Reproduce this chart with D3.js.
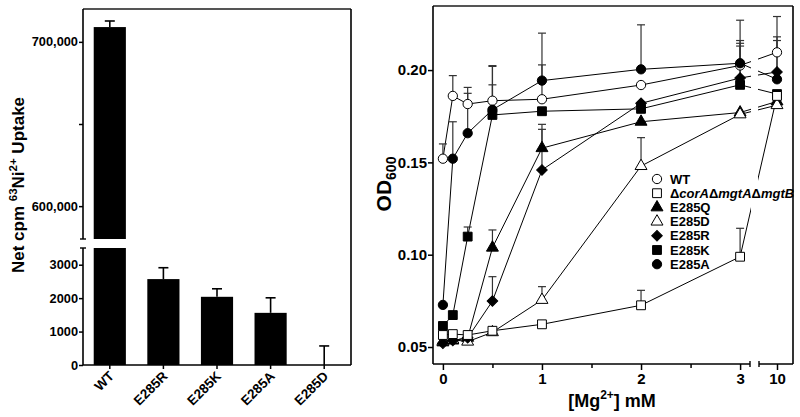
<!DOCTYPE html>
<html><head><meta charset="utf-8">
<script src="https://cdn.jsdelivr.net/npm/d3@7"></script>
<style>
body{margin:0;background:#fff}
svg{display:block}
text{font-family:"Liberation Sans",Arial,Helvetica,sans-serif;font-weight:bold;fill:#000}
</style>
</head><body>
<svg id="c" width="800" height="417"></svg>
<script>
// ---------- Left panel data ----------
const strains = ["WT","E285R","E285K","E285A","E285D"];
const uptake = [709000, 2570, 2040, 1560, 0];
const uptakeErr = [3700, 340, 240, 450, 570];
const lowTicks = [0, 1000, 2000, 3000];
const highTicks = [600000, 650000, 700000];
const highLabelled = [600000, 700000];

// ---------- Right panel data ----------
const mg = [0, 0.1, 0.25, 0.5, 1, 2, 3, 10];
const xTicksMain = [0, 1, 2, 3];
const xMinorTicks = [0.5, 1.5, 2.5];
const xTicksBreak = [10];
const yTicksOD = [0.05, 0.10, 0.15, 0.20];
const seriesNames = ["WT","ΔcorAΔmgtAΔmgtB","E285Q","E285D","E285R","E285K","E285A"];
const odWT    = [0.152, 0.186, 0.1816, 0.1834, 0.1842, 0.1919, 0.2025, 0.2096];
const odCorA  = [0.0565, 0.057, 0.0565, 0.0588, 0.0623, 0.0726, 0.0989, 0.186];
const odE285Q = [0.0525, 0.0535, 0.055, 0.1038, 0.1577, 0.172, 0.177, 0.183];
const odE285D = [0.053, 0.054, 0.0529, 0.058, 0.0755, 0.148, 0.176, 0.181];
const odE285R = [0.052, 0.0535, 0.055, 0.0749, 0.1459, 0.182, 0.1957, 0.199];
const odE285K = [0.0614, 0.0673, 0.1098, 0.1757, 0.1777, 0.179, 0.192, 0.187];
const odE285A = [0.0728, 0.152, 0.1658, 0.1785, 0.1943, 0.2004, 0.2037, 0.195];
const errWT    = [0.008, 0.011, 0.009, 0.0086, 0.0186, 0, 0.0135, 0.0194];
const errCorA  = [0, 0, 0, 0, 0, 0.0081, 0.0154, 0];
const errE285Q = [0, 0, 0, 0.0096, 0.0129, 0, 0, 0];
const errE285D = [0, 0, 0, 0, 0.0072, 0.0154, 0, 0];
const errE285R = [0, 0, 0, 0.0132, 0.022, 0, 0.0188, 0.019];
const errE285K = [0, 0, 0.0052, 0.0267, 0, 0, 0.021, 0];
const errE285A = [0, 0.02, 0.0216, 0.0235, 0.0257, 0.0241, 0.0233, 0.021];

const svg = d3.select("#c");

// ================= LEFT PANEL =================
const L = {x0: 83, x1: 351, top: 9, bottom: 365, brkLo: 248, brkHi: 239};
const xL = d3.scaleBand().domain(strains).range([L.x0, L.x1]).paddingInner(0.4).paddingOuter(0.2);
const yLo = d3.scaleLinear().domain([0, 3500]).range([L.bottom, L.brkLo]);
const yHi = d3.scaleLinear().domain([580000, 720000]).range([L.brkHi, L.top]);
const loMax = yLo.domain()[1], hiMin = yHi.domain()[0];

const gL = svg.append("g");
strains.forEach((s, i) => {
  const v = uptake[i];
  const x = xL(s), w = xL.bandwidth();
  const lowTop = Math.min(v, loMax);
  if (lowTop > 0) gL.append("rect").attr("x", x).attr("y", yLo(lowTop)).attr("width", w)
     .attr("height", yLo(0) - yLo(lowTop)).attr("fill", "#000");
  if (v > hiMin) gL.append("rect").attr("x", x).attr("y", yHi(v)).attr("width", w)
     .attr("height", yHi(hiMin) - yHi(v)).attr("fill", "#000");
  const cx = x + w / 2;
  const ys = v > loMax ? yHi : yLo;
  const e = uptakeErr[i];
  gL.append("line").attr("x1", cx).attr("x2", cx).attr("y1", ys(v)).attr("y2", ys(v + e))
    .attr("stroke", "#000").attr("stroke-width", 1.6);
  gL.append("line").attr("x1", cx - 5).attr("x2", cx + 5).attr("y1", ys(v + e)).attr("y2", ys(v + e))
    .attr("stroke", "#000").attr("stroke-width", 1.6);
});

gL.append("line").attr("x1", L.x0).attr("x2", L.x1).attr("y1", L.top).attr("y2", L.top)
  .attr("stroke", "#555").attr("stroke-width", 2);
gL.append("line").attr("x1", L.x1).attr("x2", L.x1).attr("y1", L.top).attr("y2", L.bottom)
  .attr("stroke", "#000").attr("stroke-width", 1.6);
gL.append("line").attr("x1", L.x0).attr("x2", L.x1).attr("y1", L.bottom).attr("y2", L.bottom)
  .attr("stroke", "#000").attr("stroke-width", 1.6);
gL.append("line").attr("x1", L.x0).attr("x2", L.x0).attr("y1", L.top).attr("y2", L.brkHi)
  .attr("stroke", "#000").attr("stroke-width", 1.6);
gL.append("line").attr("x1", L.x0).attr("x2", L.x0).attr("y1", L.brkLo).attr("y2", L.bottom)
  .attr("stroke", "#000").attr("stroke-width", 1.6);
[L.brkHi, L.brkLo].forEach(y => gL.append("line").attr("x1", L.x0 - 3).attr("x2", L.x0 + 3)
  .attr("y1", y).attr("y2", y).attr("stroke", "#000").attr("stroke-width", 1.4));

const axLo = d3.axisLeft(yLo).tickValues(lowTicks).tickSize(4).tickSizeOuter(0).tickFormat(d3.format("d"));
const gAxLo = gL.append("g").attr("transform", `translate(${L.x0},0)`).call(axLo);
const axHi = d3.axisLeft(yHi).tickValues(highTicks).tickSize(4).tickSizeOuter(0)
  .tickFormat(d => highLabelled.includes(d) ? d3.format(",")(d) : "");
const gAxHi = gL.append("g").attr("transform", `translate(${L.x0},0)`).call(axHi);
[gAxLo, gAxHi].forEach(g => {
  g.select(".domain").remove();
  g.selectAll(".tick line").attr("stroke", "#000").attr("stroke-width", 1.5);
  g.selectAll(".tick text").attr("font-size", 12.8).attr("x", -5)
    .style("font-family", '"Liberation Sans",Arial,sans-serif').style("font-weight", "bold");
});
const axXL = d3.axisBottom(xL).tickSize(4).tickSizeOuter(0);
const gAxXL = gL.append("g").attr("transform", `translate(0,${L.bottom})`).call(axXL);
gAxXL.select(".domain").remove();
gAxXL.selectAll(".tick line").attr("stroke", "#000").attr("stroke-width", 1.5);
gAxXL.selectAll(".tick text").attr("font-size", 13.5).attr("text-anchor", "end")
  .attr("y", 0).attr("dy", 0)
  .attr("transform", "translate(5,12) rotate(-45)")
  .style("font-family", '"Liberation Sans",Arial,sans-serif').style("font-weight", "bold");

const yLabL = gL.append("text").attr("transform", "translate(24,185) rotate(-90)")
  .attr("text-anchor", "middle").attr("font-size", 17);
yLabL.append("tspan").text("Net cpm ");
yLabL.append("tspan").attr("font-size", 11.5).attr("dy", -7).text("63");
yLabL.append("tspan").attr("dy", 7).text("Ni");
yLabL.append("tspan").attr("font-size", 11.5).attr("dy", -7).text("2+");
yLabL.append("tspan").attr("dy", 7).text(" Uptake");

// ================= RIGHT PANEL =================
const R = {x0: 433, x1: 793, top: 6, bottom: 364, brkA: 750, brkB: 759};
const xA = d3.scaleLinear().domain([-0.1, 3.1]).range([R.x0, R.brkA]);
const xB = d3.scaleLinear().domain([9.82, 10.16]).range([R.brkB, R.x1]);
const xR = c => c <= xA.domain()[1] ? xA(c) : xB(c);
const yR = d3.scaleLinear().domain([0.0408, 0.2347]).range([R.bottom, R.top]);

const gR = svg.append("g");
const series = [
  {name: "E285Q", v: odE285Q, e: errE285Q, sym: d3.symbolTriangle, fill: "#000", size: 62, rot: 0},
  {name: "E285D", v: odE285D, e: errE285D, sym: d3.symbolTriangle, fill: "#fff", size: 62, rot: 0},
  {name: "E285R", v: odE285R, e: errE285R, sym: d3.symbolSquare, fill: "#000", size: 56, rot: 45},
  {name: "E285K", v: odE285K, e: errE285K, sym: d3.symbolSquare, fill: "#000", size: 78, rot: 0},
  {name: "WT", v: odWT, e: errWT, sym: d3.symbolCircle, fill: "#fff", size: 68, rot: 0},
  {name: "E285A", v: odE285A, e: errE285A, sym: d3.symbolCircle, fill: "#000", size: 68, rot: 0},
  {name: "ΔcorAΔmgtAΔmgtB", v: odCorA, e: errCorA, sym: d3.symbolSquare, fill: "#fff", size: 78, rot: 0}
];
const line = d3.line().x(d => xR(d[0])).y(d => yR(d[1]));
series.forEach(s => {
  gR.append("path").attr("d", line(mg.map((c, i) => [c, s.v[i]])))
    .attr("fill", "none").attr("stroke", "#000").attr("stroke-width", 1);
});
gR.append("rect").attr("x", xA(xA.domain()[1]) + 1).attr("y", R.top + 2)
  .attr("width", xB(xB.domain()[0]) - xA(xA.domain()[1]) - 2).attr("height", R.bottom - R.top - 4)
  .attr("fill", "#fff");
series.forEach(s => {
  mg.forEach((c, i) => {
    if (!s.e[i]) return;
    const cx = xR(c), y0 = yR(s.v[i]), y1 = yR(s.v[i] + s.e[i]);
    gR.append("line").attr("x1", cx).attr("x2", cx).attr("y1", y0).attr("y2", y1)
      .attr("stroke", "#333").attr("stroke-width", 1.2);
    gR.append("line").attr("x1", cx - 4).attr("x2", cx + 4).attr("y1", y1).attr("y2", y1)
      .attr("stroke", "#333").attr("stroke-width", 1.2);
  });
});
series.forEach(s => {
  const sym = d3.symbol().type(s.sym).size(s.size);
  mg.forEach((c, i) => {
    gR.append("path").attr("d", sym())
      .attr("transform", `translate(${xR(c)},${yR(s.v[i])}) rotate(${s.rot})`)
      .attr("fill", s.fill).attr("stroke", "#000").attr("stroke-width", 1);
  });
});

gR.append("line").attr("x1", R.x0).attr("x2", R.x1).attr("y1", R.top).attr("y2", R.top)
  .attr("stroke", "#555").attr("stroke-width", 2);
gR.append("line").attr("x1", R.x1).attr("x2", R.x1).attr("y1", R.top).attr("y2", R.bottom)
  .attr("stroke", "#000").attr("stroke-width", 1.6);
gR.append("line").attr("x1", R.x0).attr("x2", R.x0).attr("y1", R.top).attr("y2", R.bottom)
  .attr("stroke", "#000").attr("stroke-width", 1.6);
gR.append("line").attr("x1", R.x0).attr("x2", R.brkA).attr("y1", R.bottom).attr("y2", R.bottom)
  .attr("stroke", "#000").attr("stroke-width", 1.6);
gR.append("line").attr("x1", R.brkB).attr("x2", R.x1).attr("y1", R.bottom).attr("y2", R.bottom)
  .attr("stroke", "#000").attr("stroke-width", 1.6);
[R.brkA, R.brkB].forEach(x => gR.append("line").attr("x1", x).attr("x2", x)
  .attr("y1", R.bottom - 3).attr("y2", R.bottom + 3).attr("stroke", "#000").attr("stroke-width", 1.4));

const styleAxis = (g, fs) => {
  g.select(".domain").remove();
  g.selectAll(".tick line").attr("stroke", "#000").attr("stroke-width", 1.5);
  g.selectAll(".tick text").attr("font-size", fs)
    .style("font-family", '"Liberation Sans",Arial,sans-serif').style("font-weight", "bold");
};
const gYR = gR.append("g").attr("transform", `translate(${R.x0},0)`)
  .call(d3.axisLeft(yR).tickValues(yTicksOD).tickSize(5).tickSizeOuter(0).tickFormat(d3.format(".2f")));
styleAxis(gYR, 15);
gYR.selectAll(".tick text").attr("x", -6);
const gXA = gR.append("g").attr("transform", `translate(0,${R.bottom})`)
  .call(d3.axisBottom(xA).tickValues(xTicksMain).tickSize(6).tickSizeOuter(0).tickFormat(d3.format("d")));
styleAxis(gXA, 15);
const gXB = gR.append("g").attr("transform", `translate(0,${R.bottom})`)
  .call(d3.axisBottom(xB).tickValues(xTicksBreak).tickSize(6).tickSizeOuter(0).tickFormat(d3.format("d")));
styleAxis(gXB, 15);
const gXm = gR.append("g").attr("transform", `translate(0,${R.bottom})`)
  .call(d3.axisBottom(xA).tickValues(xMinorTicks).tickSize(4).tickSizeOuter(0).tickFormat(""));
styleAxis(gXm, 15);

const yLabR = gR.append("text").attr("transform", "translate(391,184) rotate(-90)")
  .attr("text-anchor", "middle").attr("font-size", 21);
yLabR.append("tspan").text("OD");
yLabR.append("tspan").attr("font-size", 14).attr("dy", 5).text("600");

const xLabR = gR.append("text").attr("x", 612).attr("y", 407).attr("text-anchor", "middle").attr("font-size", 18);
xLabR.append("tspan").text("[Mg");
xLabR.append("tspan").attr("font-size", 12).attr("dy", -8).text("2+");
xLabR.append("tspan").attr("dy", 8).text("] mM");

const legendOrder = seriesNames.map(n => series.find(s => s.name === n));
const lg = gR.append("g").attr("transform", "translate(657,179)");
legendOrder.forEach((s, i) => {
  const row = lg.append("g").attr("transform", `translate(0,${i * 14.2})`);
  row.append("path").attr("d", d3.symbol().type(s.sym).size(s.size)())
    .attr("transform", `rotate(${s.rot})`)
    .attr("fill", s.fill).attr("stroke", "#000").attr("stroke-width", 1);
  const t = row.append("text").attr("x", 13).attr("dy", "0.36em").attr("font-size", 13);
  if (s.name.startsWith("Δ")) {
    s.name.split(/(Δ)/).filter(p => p).forEach(p => {
      t.append("tspan").attr("font-style", p === "Δ" ? "normal" : "italic").text(p);
    });
  } else t.text(s.name);
});
</script>
</body></html>
